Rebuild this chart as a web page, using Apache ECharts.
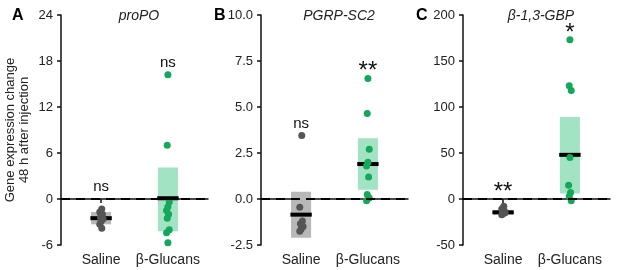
<!DOCTYPE html>
<html>
<head>
<meta charset="utf-8">
<script src="https://cdn.jsdelivr.net/npm/echarts@6/dist/echarts.min.js"></script>
<style>
  html, body { margin: 0; padding: 0; background: #fff; }
  #main { width: 617px; height: 270px; }
</style>
</head>
<body>
<div id="main"></div>
<script>
// groups on the x axis: Saline = 1, β-Glucans = 2
const categories = ['Saline', 'β-Glucans'];
const genes = ['proPO', 'PGRP-SC2', 'β-1,3-GBP'];
const letters = ['A', 'B', 'C'];

// individual values, per gene and group
const propoSaline = [-1.3, -1.7, -2.0, -2.4, -2.6, -2.9, -3.3, -3.8];
const propoGlucans = [16.2, 7.0, -0.4, -1.0, -1.5, -2.0, -2.5, -4.0, -4.4, -5.7];
const pgrpSaline = [3.45, -0.45, -1.2, -1.35, -1.5, -1.65, -1.75];
const pgrpGlucans = [6.55, 4.65, 2.7, 2.0, 1.8, 1.2, 0.25, 0.05, -0.1];
const gbpSaline = [-8, -11, -13, -14, -15, -16, -17];
const gbpGlucans = [173, 123, 118, 45, 15, 7, 3, -2];

// small horizontal jitter of the dots (in group units)
const jitterSaline = [0.01, -0.02, 0.02, -0.01, 0.03, 0.0, -0.02, 0.01];
const jitterGlucans = [0.0, -0.01, 0.02, 0.0, -0.02, 0.01, -0.01, 0.02, -0.02, 0.0];

// box [low, median, high] per gene and group
const propoBox = [[-3.3, -2.5, -1.7], [-4.2, 0.1, 4.1]];
const pgrpBox = [[-2.1, -0.85, 0.4], [0.5, 1.9, 3.3]];
const gbpBox = [[-17, -14.5, -12], [6, 48, 89]];

// y axis ticks
const yMin = [-6, -2.5, -50];
const yMax = [24, 10, 200];
const yStep = [6, 2.5, 50];
const yDecimals = [0, 1, 0];

// significance marks and their heights
const sigText = [['ns', 'ns'], ['ns', '**'], ['**', '*']];
const sigY = [[1.6, 17.7], [4.1, 7.2], [13, 185]];

const dotColors = ['#555555', '#14a85a'];
const boxColors = ['#b8b8b8', '#a2e3c4'];

const points = [[propoSaline, propoGlucans], [pgrpSaline, pgrpGlucans], [gbpSaline, gbpGlucans]];
const boxes = [propoBox, pgrpBox, gbpBox];
const jitters = [jitterSaline, jitterGlucans];

const gridLeft = [61, 261, 463];
const letterLeft = [12, 214, 416];
const font = 'Liberation Sans, Arial, sans-serif';

let grid = [], xAxis = [], yAxis = [], series = [], title = [];

for (let i = 0; i < 3; i++) {
  grid.push({ left: gridLeft[i], width: 147, top: 15, height: 230 });
  xAxis.push({
    gridIndex: i, type: 'value', min: 0.4, max: 2.6,
    axisLine: { lineStyle: { color: '#111', width: 1.5 } },
    axisTick: { show: true, length: 4, customValues: [1, 2], lineStyle: { color: '#111', width: 1.5 } },
    axisLabel: {
      customValues: [1, 2], margin: 8, color: '#222', fontSize: 14, fontFamily: font,
      formatter: v => categories[Math.round(v) - 1]
    },
    splitLine: { show: false }
  });
  yAxis.push({
    gridIndex: i, type: 'value', min: yMin[i], max: yMax[i], interval: yStep[i],
    axisLine: { show: true, lineStyle: { color: '#111', width: 1.5 } },
    axisTick: { show: true, length: 4, lineStyle: { color: '#111', width: 1.5 } },
    axisLabel: {
      margin: 8, color: '#222', fontSize: 13, fontFamily: font,
      formatter: v => v.toFixed(yDecimals[i])
    },
    splitLine: { show: false },
    name: i === 0 ? 'Gene expression change\n48 h after injection' : '',
    nameLocation: 'middle', nameRotate: 90, nameGap: 30,
    nameTextStyle: { color: '#222', fontSize: 13, fontFamily: font, lineHeight: 14 }
  });

  // dashed zero line
  series.push({
    type: 'line', xAxisIndex: i, yAxisIndex: i, data: [], z: 1,
    markLine: {
      silent: true, symbol: 'none', animation: false,
      label: { show: false },
      lineStyle: { color: '#000', width: 2, type: [9, 6] },
      data: [{ yAxis: 0 }]
    }
  });

  // boxes with median bar
  series.push({
    type: 'custom', xAxisIndex: i, yAxisIndex: i, z: 2,
    data: boxes[i].map((b, g) => [g + 1, b[0], b[1], b[2], g]),
    renderItem: (params, api) => {
      const x = api.value(0);
      const p1 = api.coord([x - 0.15, api.value(3)]);
      const p2 = api.coord([x + 0.15, api.value(1)]);
      const m1 = api.coord([x - 0.16, api.value(2)]);
      const m2 = api.coord([x + 0.16, api.value(2)]);
      return {
        type: 'group',
        children: [
          { type: 'rect', shape: { x: p1[0], y: p1[1], width: p2[0] - p1[0], height: p2[1] - p1[1] },
            style: { fill: boxColors[api.value(4)] } },
          { type: 'rect', shape: { x: m1[0], y: m1[1] - 2, width: m2[0] - m1[0], height: 4 },
            style: { fill: '#000' } }
        ]
      };
    }
  });

  // dots
  for (let g = 0; g < 2; g++) {
    series.push({
      type: 'scatter', xAxisIndex: i, yAxisIndex: i, z: 3,
      symbolSize: 7,
      itemStyle: { color: dotColors[g], opacity: 1 },
      data: points[i][g].map((v, k) => [g + 1 + jitters[g][k % jitters[g].length], v])
    });
  }

  // significance labels
  series.push({
    type: 'custom', xAxisIndex: i, yAxisIndex: i, z: 4,
    data: sigText[i].map((t, g) => [g + 1, sigY[i][g]]),
    renderItem: (params, api) => {
      const p = api.coord([api.value(0), api.value(1)]);
      const t = sigText[i][params.dataIndex];
      const star = t.indexOf('*') >= 0;
      return {
        type: 'text',
        style: {
          x: p[0], y: p[1] + (star ? 5 : 0), text: t, align: 'center', verticalAlign: 'middle',
          fill: '#111', fontFamily: font, fontSize: star ? 24 : 15
        }
      };
    }
  });

  title.push({
    text: genes[i], left: gridLeft[i] + 73, top: 4, textAlign: 'center',
    textStyle: { fontSize: 14, fontStyle: 'italic', fontWeight: 'normal', color: '#222', fontFamily: font }
  });
  title.push({
    text: letters[i], left: letterLeft[i], top: 8, padding: 0,
    textStyle: { fontSize: 16, fontWeight: 'bold', color: '#000', fontFamily: font }
  });
}

const chart = echarts.init(document.getElementById('main'));
chart.setOption({ animation: false, title, grid, xAxis, yAxis, series });
</script>
</body>
</html>
